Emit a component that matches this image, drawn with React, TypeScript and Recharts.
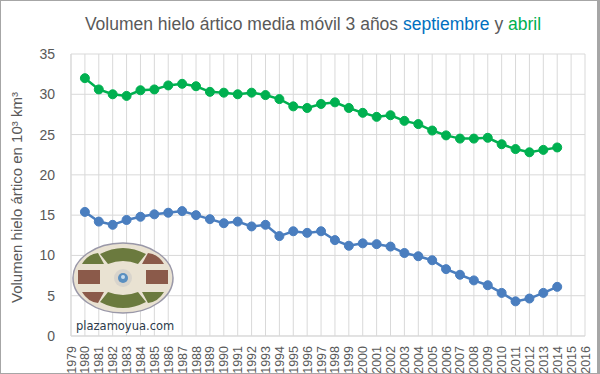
import React from 'react';
import { LineChart, Line, XAxis, YAxis, CartesianGrid } from 'recharts';

const years = [1980, 1981, 1982, 1983, 1984, 1985, 1986, 1987, 1988, 1989, 1990, 1991, 1992, 1993, 1994, 1995, 1996, 1997, 1998, 1999, 2000, 2001, 2002, 2003, 2004, 2005, 2006, 2007, 2008, 2009, 2010, 2011, 2012, 2013, 2014];
const septiembre = [15.4, 14.2, 13.8, 14.4, 14.8, 15.1, 15.3, 15.5, 15.0, 14.5, 14.0, 14.2, 13.6, 13.8, 12.4, 13.0, 12.8, 13.0, 11.9, 11.2, 11.5, 11.4, 11.1, 10.3, 9.9, 9.4, 8.3, 7.6, 6.9, 6.3, 5.35, 4.3, 4.65, 5.35, 6.1];
const abril = [32.0, 30.6, 30.0, 29.8, 30.5, 30.6, 31.1, 31.3, 31.0, 30.3, 30.2, 30.0, 30.2, 29.9, 29.4, 28.5, 28.3, 28.8, 29.0, 28.3, 27.7, 27.2, 27.4, 26.7, 26.3, 25.5, 24.9, 24.5, 24.5, 24.6, 23.8, 23.2, 22.8, 23.1, 23.4];
const xTicks = [1979, 1980, 1981, 1982, 1983, 1984, 1985, 1986, 1987, 1988, 1989, 1990, 1991, 1992, 1993, 1994, 1995, 1996, 1997, 1998, 1999, 2000, 2001, 2002, 2003, 2004, 2005, 2006, 2007, 2008, 2009, 2010, 2011, 2012, 2013, 2014, 2015, 2016];
const yTicks = [0, 5, 10, 15, 20, 25, 30, 35];

const data = years.map((y, i) => ({ year: y, sep: septiembre[i], abr: abril[i] }));

const FONT = '"Liberation Sans", Arial, sans-serif';
const BLUE = '#4a7ebf';
const GREEN = '#00b050';

const XTick = (props: any) => {
  const { x, y, payload } = props;
  return (
    <text
      x={0}
      y={0}
      transform={`translate(${x + 4.5},${y + 2}) rotate(-90)`}
      textAnchor="end"
      fontSize={12.5}
      fill="#595959"
      fontFamily={FONT}
    >
      {payload.value}
    </text>
  );
};

const Logo = () => (
  <svg width={110} height={95} style={{ position: 'absolute', left: 70, top: 240 }}>
    <ellipse cx={53} cy={38} rx={50} ry={35} fill="#e9e2d2" stroke="#9a98a8" strokeWidth={1.5} />
    <path d="M30 14 Q53 2 76 14 L68 24 Q53 18 38 24 Z" fill="#6b7a3e" />
    <path d="M30 62 Q53 74 76 62 L68 52 Q53 58 38 52 Z" fill="#6b7a3e" />
    <path d="M8 30 L30 30 L30 44 L8 44 Z" fill="#8b5a4a" />
    <path d="M76 30 L98 30 L98 44 L76 44 Z" fill="#8b5a4a" />
    <path d="M12 24 Q18 14 28 13 L34 24 Z" fill="#6b7a3e" />
    <path d="M94 24 Q88 14 78 13 L72 24 Z" fill="#8b5a4a" />
    <path d="M12 52 Q18 62 28 63 L34 52 Z" fill="#8b5a4a" />
    <path d="M94 52 Q88 62 78 63 L72 52 Z" fill="#6b7a3e" />
    <circle cx={53} cy={38} r={9} fill="#d8d4cc" />
    <circle cx={53} cy={38} r={5} fill="#5a8fc0" />
    <circle cx={53} cy={37} r={2} fill="#c8dcec" />
    <text x={6} y={90} fontSize={11.5} fontFamily='"DejaVu Sans", sans-serif' fill="#2b3a4a">plazamoyua.com</text>
  </svg>
);

export default function App() {
  return (
    <div style={{ position: 'absolute', left: 0, top: 0, width: 600, height: 374, background: '#fff' }}>
      <LineChart width={600} height={374} data={data} margin={{ top: 54, right: 15, bottom: 0, left: 0 }}>
        <CartesianGrid stroke="#d9d9d9" strokeWidth={1} vertical={true} horizontal={true} />
        <XAxis
          dataKey="year"
          type="number"
          domain={[1979, 2016]}
          ticks={xTicks}
          interval={0}
          tick={<XTick />}
          tickLine={false}
          axisLine={{ stroke: '#d9d9d9' }}
          height={38}
        />
        <YAxis
          domain={[0, 35]}
          ticks={yTicks}
          tickLine={false}
          axisLine={{ stroke: '#d9d9d9' }}
          width={71}
          tick={{ fontSize: 14, fill: '#595959', fontFamily: FONT }}
          tickMargin={10}
          label={{
            value: 'Volumen hielo ártico en 10³ km³',
            angle: -90,
            position: 'insideLeft',
            dx: 12,
            dy: 108,
            style: { fontSize: 15, fill: '#595959', fontFamily: FONT },
          }}
        />
        <Line dataKey="abr" stroke={GREEN} strokeWidth={2.5} dot={{ r: 4.5, fill: GREEN, stroke: GREEN, strokeWidth: 1 }} isAnimationActive={false} />
        <Line dataKey="sep" stroke={BLUE} strokeWidth={2.5} dot={{ r: 4.5, fill: BLUE, stroke: BLUE, strokeWidth: 1 }} isAnimationActive={false} />
      </LineChart>
      <div
        style={{
          position: 'absolute',
          top: 14,
          left: 0,
          width: 626,
          textAlign: 'center',
          fontFamily: FONT,
          fontSize: 17.5,
          color: '#595959',
          whiteSpace: 'nowrap',
        }}
      >
        Volumen hielo ártico media móvil 3 años <span style={{ color: '#0070c0' }}>septiembre</span> y{' '}
        <span style={{ color: GREEN }}>abril</span>
      </div>
      <Logo />
      <div style={{ position: 'absolute', left: 0, top: 0, width: 600, height: 374, boxSizing: 'border-box', border: '1px solid #a6a6a6', borderRightWidth: 3, pointerEvents: 'none' }} />
    </div>
  );
}
